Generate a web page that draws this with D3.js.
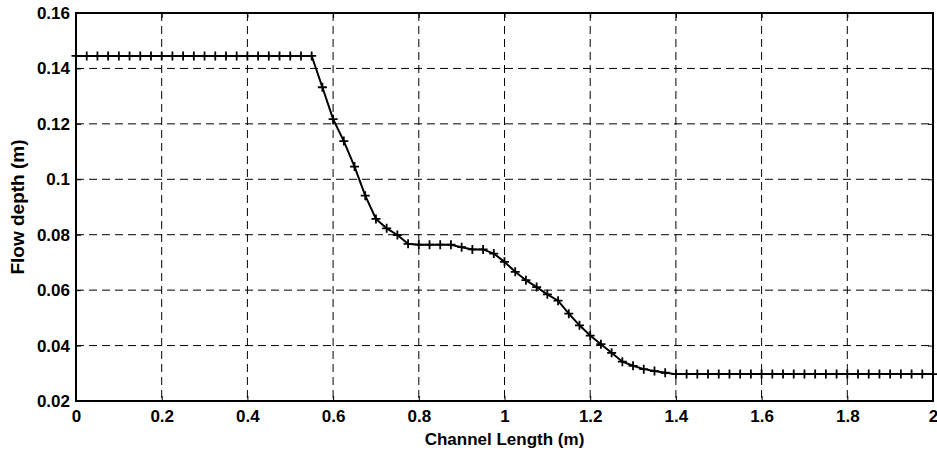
<!DOCTYPE html>
<html lang="en">
<head>
    <meta charset="UTF-8">
    <title>Flow depth along channel</title>
    <script src="https://d3js.org/d3.v7.min.js"></script>
    <style>
        body { margin: 0; background: #fff; }
        svg text { font-family: "Liberation Sans", Arial, sans-serif; font-weight: bold; fill: #000; }
        .grid line { stroke: #000; stroke-width: 1; stroke-dasharray: 8,5; }
    </style>
</head>
<body>
    <div id="chart"></div>
    <script>
        // channel positions (m)
        const channelX = [
            0, 0.025, 0.05, 0.075, 0.1, 0.125, 0.15, 0.175, 0.2, 0.225, 0.25, 0.275,
            0.3, 0.325, 0.35, 0.375, 0.4, 0.425, 0.45, 0.475, 0.5, 0.525, 0.55,
            0.575, 0.6, 0.625, 0.65, 0.675, 0.7, 0.725, 0.75, 0.775, 0.8, 0.825, 0.85,
            0.875, 0.9, 0.925, 0.95, 0.975, 1.0, 1.025, 1.05, 1.075, 1.1, 1.125, 1.15,
            1.175, 1.2, 1.225, 1.25, 1.275, 1.3, 1.325, 1.35, 1.375, 1.4,
            1.425, 1.45, 1.475, 1.5, 1.525, 1.55, 1.575, 1.6, 1.625, 1.65, 1.675, 1.7,
            1.725, 1.75, 1.775, 1.8, 1.825, 1.85, 1.875, 1.9, 1.925, 1.95, 1.975, 2.0
        ];
        // flow depth (m)
        const flowDepth = [
            0.1445, 0.1445, 0.1445, 0.1445, 0.1445, 0.1445, 0.1445, 0.1445, 0.1445, 0.1445, 0.1445, 0.1445,
            0.1445, 0.1445, 0.1445, 0.1445, 0.1445, 0.1445, 0.1445, 0.1445, 0.1445, 0.1445, 0.1445,
            0.1332, 0.1217, 0.1138, 0.1046, 0.0941, 0.0857, 0.0823, 0.0799, 0.0767, 0.0764, 0.0764, 0.0764,
            0.0764, 0.0755, 0.0747, 0.0747, 0.0732, 0.0702, 0.0666, 0.0636, 0.0611, 0.0585, 0.0562, 0.0515,
            0.0473, 0.0436, 0.0405, 0.0374, 0.0342, 0.0327, 0.0315, 0.0308, 0.0302, 0.0297,
            0.0297, 0.0297, 0.0297, 0.0297, 0.0297, 0.0297, 0.0297, 0.0297, 0.0297, 0.0297, 0.0297, 0.0297,
            0.0297, 0.0297, 0.0297, 0.0297, 0.0297, 0.0297, 0.0297, 0.0297, 0.0297, 0.0297, 0.0297, 0.0297
        ];
        const xTicks = [0, 0.2, 0.4, 0.6, 0.8, 1, 1.2, 1.4, 1.6, 1.8, 2];
        const yTicks = [0.02, 0.04, 0.06, 0.08, 0.1, 0.12, 0.14, 0.16];

        const width = 937, height = 450;
        const mLeft = 76, mRight = 933, mTop = 13, mBottom = 401;

        const svg = d3.select("#chart").append("svg")
            .attr("width", width)
            .attr("height", height);

        const x = d3.scaleLinear().domain([0, 2]).range([mLeft, mRight]);
        const y = d3.scaleLinear().domain([0.02, 0.16]).range([mBottom, mTop]);

        // grid
        const grid = svg.append("g").attr("class", "grid");
        grid.selectAll(".vg")
            .data(xTicks.slice(1, -1))
            .enter().append("line")
            .attr("x1", d => x(d)).attr("x2", d => x(d))
            .attr("y1", mTop).attr("y2", mBottom);
        grid.selectAll(".hg")
            .data(yTicks.slice(1, -1))
            .enter().append("line")
            .attr("x1", mLeft).attr("x2", mRight)
            .attr("y1", d => y(d)).attr("y2", d => y(d));

        // axes with inward ticks
        svg.append("g")
            .attr("transform", `translate(0,${mBottom})`)
            .call(d3.axisBottom(x).tickValues(xTicks).tickSize(-5).tickPadding(9).tickFormat(d3.format("")));
        svg.append("g")
            .attr("transform", `translate(${mLeft},0)`)
            .call(d3.axisLeft(y).tickValues(yTicks).tickSize(-5).tickPadding(6).tickFormat(d3.format("")));
        svg.append("g")
            .attr("transform", `translate(0,${mTop})`)
            .call(d3.axisTop(x).tickValues(xTicks).tickSize(-5).tickFormat(""));
        svg.append("g")
            .attr("transform", `translate(${mRight},0)`)
            .call(d3.axisRight(y).tickValues(yTicks).tickSize(-5).tickFormat(""));

        svg.selectAll(".domain").remove();
        svg.selectAll(".tick line").attr("stroke", "#000").attr("stroke-width", 1);
        svg.selectAll("g[font-family]").attr("font-family", null).attr("font-size", 17);

        // box
        svg.append("rect")
            .attr("x", mLeft).attr("y", mTop)
            .attr("width", mRight - mLeft).attr("height", mBottom - mTop)
            .attr("fill", "none").attr("stroke", "#000").attr("stroke-width", 2);

        // line + markers
        const pts = channelX.map((d, i) => [d, flowDepth[i]]);
        svg.append("path")
            .datum(pts)
            .attr("fill", "none")
            .attr("stroke", "#000")
            .attr("stroke-width", 2)
            .attr("d", d3.line().x(d => x(d[0])).y(d => y(d[1])));

        const s = 4.5;
        svg.append("g").selectAll("path")
            .data(pts)
            .enter().append("path")
            .attr("stroke", "#000")
            .attr("stroke-width", 1.8)
            .attr("d", d => {
                const px = x(d[0]), py = y(d[1]);
                return `M${px - s},${py}H${px + s}M${px},${py - s}V${py + s}`;
            });

        // axis labels
        svg.append("text")
            .attr("x", (mLeft + mRight) / 2)
            .attr("y", 445)
            .attr("text-anchor", "middle")
            .style("font-size", "17px")
            .text("Channel Length (m)");
        svg.append("text")
            .attr("transform", `translate(24,${(mTop + mBottom) / 2}) rotate(-90)`)
            .attr("text-anchor", "middle")
            .style("font-size", "19px")
            .text("Flow depth (m)");
    </script>
</body>
</html>
